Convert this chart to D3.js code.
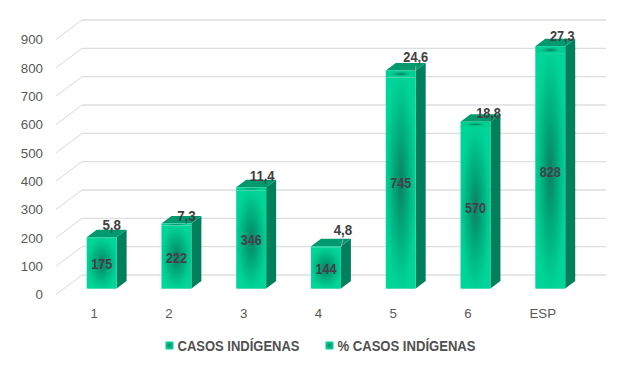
<!DOCTYPE html>
<html>

<head>
    <title>Casos indigenas</title>
    <script src="https://d3js.org/d3.v7.min.js"></script>
    <style>
        body { margin: 0; background: #fff; }
        text { font-family: "Liberation Sans", Arial, sans-serif; }
    </style>
</head>

<body>

    <svg width="635" height="367" id="mainSvg"></svg>
    <script>
        const categories = ["1", "2", "3", "4", "5", "6", "ESP"];
        const casos = [175, 222, 346, 144, 745, 570, 828];
        const porcentaje = [5.8, 7.3, 11.4, 4.8, 24.6, 18.8, 27.3];
        const porcentajeLabels = ["5,8", "7,3", "11,4", "4,8", "24,6", "18,8", "27,3"];
        const yTicks = [0, 100, 200, 300, 400, 500, 600, 700, 800, 900];
        const legendNames = ["CASOS INDÍGENAS", "% CASOS INDÍGENAS"];

        // manual label moves from the original, px relative to the top of the bar
        const labelDx = [25, 25, 26, 32, 30, 28, 27];
        const labelDy = [-13, -8, -12, -17, -14, -9, -11];

        const svg = d3.select("#mainSvg");

        const depthX = 10, depthY = 7.5;

        // bars stand a little in front of the back wall
        const x = d3.scaleBand().domain(categories)
            .range([86.7, 565.2])
            .paddingInner(0.6)
            .paddingOuter(0);
        const barW = x.bandwidth();

        const yBar = d3.scaleLinear().domain([0, 900]).range([288.5, 33.5]);
        const yWall = d3.scaleLinear().domain([0, 900]).range([275, 20]);
        const yFront = d3.scaleLinear().domain([0, 900]).range([294.5, 39.5]);

        const defs = svg.append("defs");
        const grad = defs.append("radialGradient").attr("id", "frontGrad")
            .attr("cx", "50%").attr("cy", "50%").attr("r", "55%");
        grad.append("stop").attr("offset", "0%").attr("stop-color", "#0f7f62");
        grad.append("stop").attr("offset", "40%").attr("stop-color", "#00a87a");
        grad.append("stop").attr("offset", "85%").attr("stop-color", "#00cf94");
        grad.append("stop").attr("offset", "100%").attr("stop-color", "#00d699");

        // the thin top series only shows a short dark streak
        const gradTop = defs.append("radialGradient").attr("id", "topGrad")
            .attr("cx", "50%").attr("cy", "50%").attr("r", "50%");
        gradTop.append("stop").attr("offset", "0%").attr("stop-color", "#0f7f62");
        gradTop.append("stop").attr("offset", "30%").attr("stop-color", "#00a87a");
        gradTop.append("stop").attr("offset", "65%").attr("stop-color", "#00cf94");
        gradTop.append("stop").attr("offset", "100%").attr("stop-color", "#00cf94");

        // grid: floor/wall lines
        const grid = svg.append("g");
        grid.selectAll(".side").data(yTicks).join("line").attr("class", "side")
            .attr("x1", 56).attr("x2", 82)
            .attr("y1", d => yFront(d)).attr("y2", d => yWall(d))
            .attr("stroke", "#d9d9d9").attr("stroke-width", 1);
        grid.selectAll(".back").data(yTicks).join("line").attr("class", "back")
            .attr("x1", 82).attr("x2", 606)
            .attr("y1", d => yWall(d)).attr("y2", d => yWall(d))
            .attr("stroke", "#dedede").attr("stroke-width", 1.4);

        // y axis labels, no domain line
        const yAxis = d3.axisLeft(yFront).tickValues(yTicks).tickSize(0).tickPadding(13);
        const yG = svg.append("g").attr("transform", "translate(56,0)").call(yAxis);
        yG.select(".domain").remove();
        yG.selectAll("text").attr("font-size", 13.3).attr("fill", "#595959")
            .attr("font-family", "Liberation Sans, Arial, sans-serif");

        svg.append("g").selectAll("text").data(categories).join("text")
            .attr("x", d => x(d) + 7.5)
            .attr("y", 318)
            .attr("text-anchor", "middle")
            .attr("font-size", 13.3).attr("fill", "#595959")
            .text(d => d);

        const rows = categories.map((c, i) => ({
            c, i, casos: casos[i], pct: porcentaje[i], total: casos[i] + porcentaje[i]
        }));

        const bars = svg.append("g").selectAll("g").data(rows).join("g");

        // side face
        bars.append("path")
            .attr("d", d => {
                const x1 = x(d.c) + barW;
                return `M${x1},${yBar(0)}L${x1 + depthX},${yBar(0) - depthY}L${x1 + depthX},${yBar(d.total) - depthY}L${x1},${yBar(d.total)}Z`;
            })
            .attr("fill", "#007f5c");

        // top face
        bars.append("path")
            .attr("d", d => {
                const x0 = x(d.c), t = yBar(d.total);
                return `M${x0},${t}L${x0 + depthX},${t - depthY}L${x0 + barW + depthX},${t - depthY}L${x0 + barW},${t}Z`;
            })
            .attr("fill", "#009a6e");

        // front faces, one per stacked series
        bars.append("rect")
            .attr("x", d => x(d.c)).attr("width", barW)
            .attr("y", d => yBar(d.casos))
            .attr("height", d => yBar(0) - yBar(d.casos))
            .attr("fill", "url(#frontGrad)");
        bars.append("rect")
            .attr("x", d => x(d.c)).attr("width", barW)
            .attr("y", d => yBar(d.total))
            .attr("height", d => yBar(d.casos) - yBar(d.total))
            .attr("fill", "url(#topGrad)");
        bars.append("rect")
            .attr("x", d => x(d.c) + 0.5).attr("width", barW - 1)
            .attr("y", d => yBar(0) - 0.5)
            .attr("height", 1)
            .attr("fill", "#4fdcb4");

        // leader lines, only where the label was pulled far away
        bars.filter(d => labelDy[d.i] <= -14).append("line")
            .attr("x1", d => x(d.c) + labelDx[d.i])
            .attr("x2", d => x(d.c) + barW)
            .attr("y1", d => yBar(d.total) + labelDy[d.i] + 10)
            .attr("y2", d => yBar(d.total) + 1)
            .attr("stroke", "#a6a6a6").attr("stroke-width", 1);

        // value labels
        bars.append("text")
            .attr("x", d => x(d.c) + barW / 2)
            .attr("y", d => yBar(d.casos / 2) + 5.5)
            .attr("text-anchor", "middle")
            .attr("font-size", 15.5).attr("font-weight", "bold").attr("fill", "#44404a")
            .attr("textLength", d => String(d.casos).length * 7).attr("lengthAdjust", "spacingAndGlyphs")
            .text(d => d.casos);

        bars.append("text")
            .attr("x", d => x(d.c) + labelDx[d.i])
            .attr("y", d => yBar(d.total) + labelDy[d.i] + 5.5)
            .attr("text-anchor", "middle")
            .attr("font-size", 15.5).attr("font-weight", "bold").attr("fill", "#404040")
            .attr("textLength", d => porcentajeLabels[d.i].length * 6.2).attr("lengthAdjust", "spacingAndGlyphs")
            .text(d => porcentajeLabels[d.i]);

        // legend
        const legendX = [165.5, 325.5];
        const legendW = [122, 138];
        const legend = svg.append("g").selectAll("g").data(legendNames).join("g")
            .attr("transform", (d, i) => `translate(${legendX[i]},345.5)`);
        legend.append("rect").attr("x", 0).attr("y", -4).attr("width", 8).attr("height", 8)
            .attr("fill", "url(#frontGrad)");
        legend.append("text").attr("x", 12).attr("y", 5)
            .attr("font-size", 14).attr("font-weight", "bold").attr("fill", "#505050")
            .attr("textLength", (d, i) => legendW[i]).attr("lengthAdjust", "spacingAndGlyphs")
            .text(d => d);
    </script>
</body>

</html>
